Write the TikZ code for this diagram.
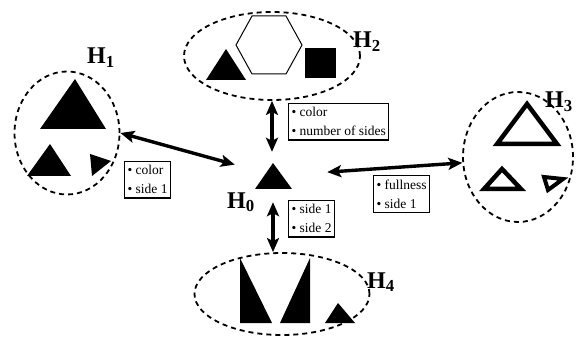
\documentclass[tikz,border=0pt]{standalone}
\usepackage{fontspec}
\setmainfont{Liberation Serif}
\usetikzlibrary{arrows.meta,shapes.geometric}

\begin{document}
\begin{tikzpicture}[x=1pt,y=-1pt,
  group/.style={draw,ellipse,dash pattern=on 5pt off 4pt,line width=1.8pt,inner sep=0pt},
  tag/.style={draw,line width=1.1pt,align=left,anchor=north west,
    inner xsep=3pt,inner ysep=4pt,font=\fontsize{13.5}{19}\selectfont},
  hlabel/.style={anchor=base west,inner sep=0pt,font=\fontsize{24}{24}\selectfont\bfseries},
  link/.style={{Stealth[length=14pt,width=12pt,inset=3pt]}-{Stealth[length=14pt,width=12pt,inset=3pt]},
    line width=3.4pt},
  hollow/.style={draw,line width=4.5pt,line join=miter}]
  \useasboundingbox (0,0) rectangle (578,339);

  % the groups
  \node[group,minimum width=105pt,minimum height=123pt] (h1) at (67,133) {};
  \node[group,minimum width=176pt,minimum height=88pt] (h2) at (272,56) {};
  \node[group,minimum width=110pt,minimum height=130pt] (h3) at (518,157) {};
  \node[group,minimum width=175pt,minimum height=82pt] (h4) at (282,294) {};
  \node[minimum width=92pt,minimum height=50pt,inner sep=0pt] (h0) at (281,177) {};
  \coordinate (apex) at (273,163);

  % H0
  \fill (apex) -- (255,189) -- (292,189) -- cycle;
  % H1
  \fill (75,79) -- (40,129) -- (106,129) -- cycle;
  \fill (50,144) -- (27,176) -- (71,176) -- cycle;
  \fill (90,154) -- (111,161) -- (92,176) -- cycle;
  % H2
  \fill (226,49) -- (206,80) -- (246,80) -- cycle;
  \draw[line width=1pt] (236,45) -- (252,16) -- (286,16) -- (302,45) -- (286,74) -- (252,74) -- cycle;
  \fill (305,48) rectangle (336,78);
  % H3
  \draw[hollow] (527,104) -- (497,144) -- (557,144) -- cycle;
  \draw[hollow] (502,169) -- (484,189) -- (521,189) -- cycle;
  \draw[hollow,line width=4pt] (544,177) -- (563,179) -- (548,190) -- cycle;
  % H4
  \fill (240,258) -- (240,323) -- (272,323) -- cycle;
  \fill (310,258) -- (310,323) -- (280,323) -- cycle;
  \fill (338,303) -- (325,323) -- (355,323) -- cycle;

  % labels
  \node[hlabel] (l0) at (227,208) {H\textsubscript{0}};
  \node[hlabel] (l1) at (87,64) {H\textsubscript{1}};
  \node[hlabel] (l2) at (353,48) {H\textsubscript{2}};
  \node[hlabel] (l3) at (545,108) {H\textsubscript{3}};
  \node[hlabel] (l4) at (367,288) {H\textsubscript{4}};

  % links
  \draw[link] (h1.east) -- (h0.165);
  \draw[link] (h2.south) -- (h2.south |- h0.north);
  \draw[link] (h3.186) -- (h0.6);
  \draw[link] (apex |- h0.south) -- (apex |- h4.north);

  % differences
  \node[tag] (t1) at (124,161) {\textbullet\ color\\\textbullet\ side 1};
  \node[tag] (t2) at (288,103) {\textbullet\ color\\\textbullet\ number of sides};
  \node[tag] (t3) at (373,175) {\textbullet\ fullness\\\textbullet\ side 1};
  \node[tag] (t4) at (288,200) {\textbullet\ side 1\\\textbullet\ side 2};
\end{tikzpicture}
\end{document}
